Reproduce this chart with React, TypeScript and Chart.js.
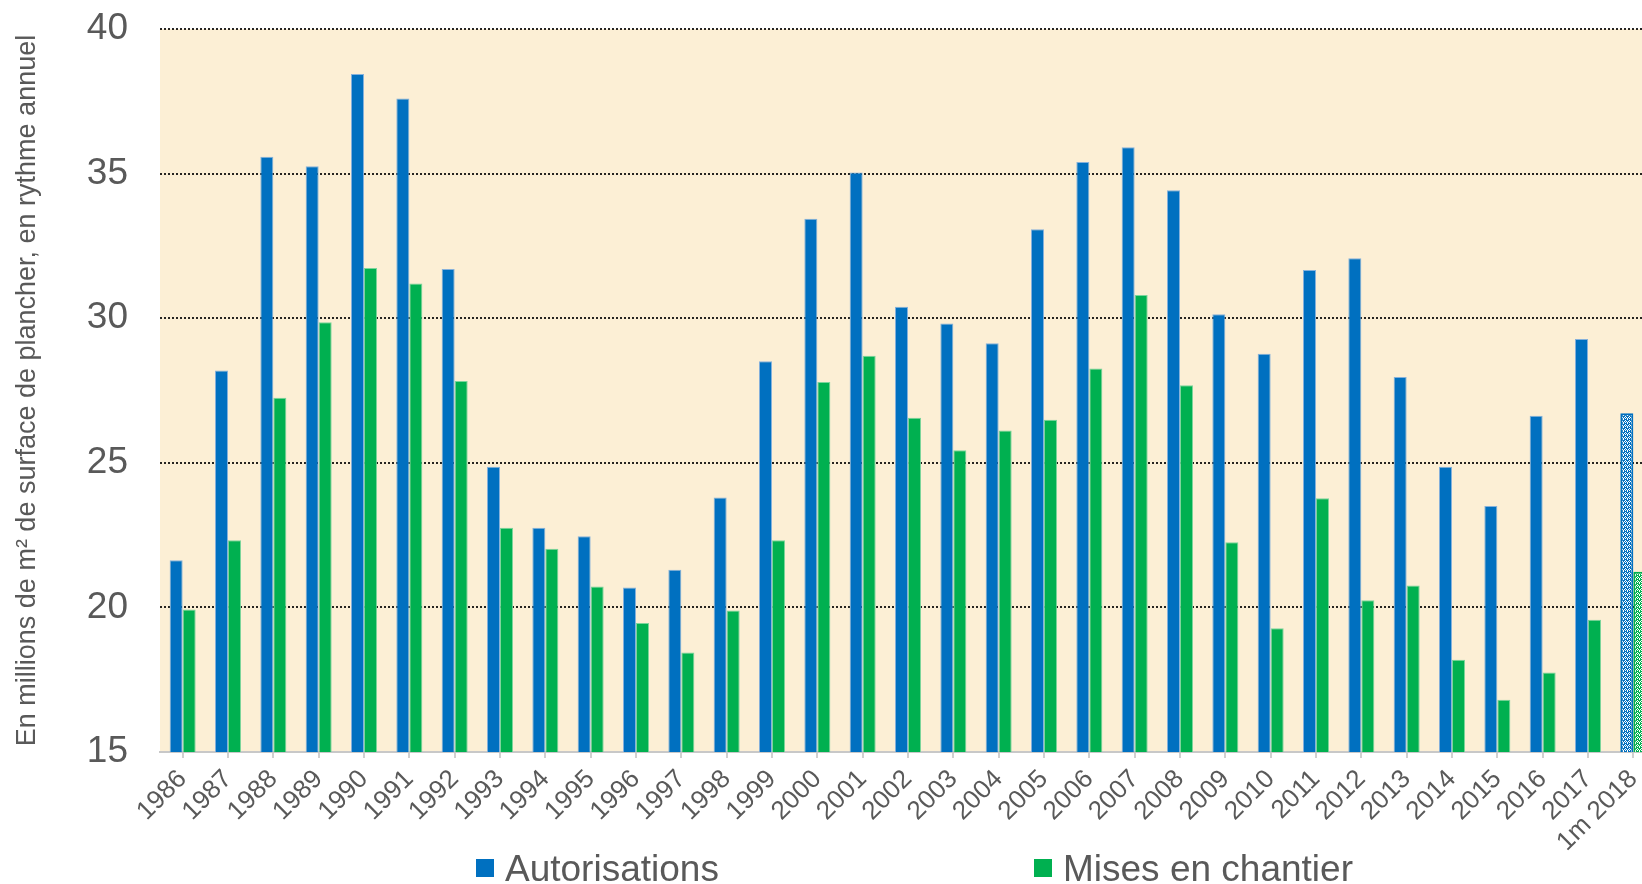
import { useEffect, useRef } from 'react';
import { Chart, registerables } from 'chart.js';

Chart.register(...registerables);

const categories = [
  '1986', '1987', '1988', '1989', '1990', '1991', '1992', '1993', '1994', '1995',
  '1996', '1997', '1998', '1999', '2000', '2001', '2002', '2003', '2004', '2005',
  '2006', '2007', '2008', '2009', '2010', '2011', '2012', '2013', '2014', '2015',
  '2016', '2017', '1m 2018',
];

const autorisations = [
  21.63, 28.19, 35.58, 35.25, 38.44, 37.6, 31.7, 24.86, 22.75, 22.46,
  20.69, 21.3, 23.8, 28.51, 33.44, 35.04, 30.4, 29.82, 29.13, 33.08,
  35.4, 35.91, 34.42, 30.14, 28.77, 31.67, 32.07, 27.97, 24.86, 23.51,
  26.63, 29.28, 26.71,
];

const misesEnChantier = [
  19.93, 22.32, 27.25, 29.86, 31.74, 31.2, 27.83, 22.75, 22.03, 20.72,
  19.46, 18.44, 19.89, 22.32, 27.79, 28.7, 26.56, 25.43, 26.12, 26.49,
  28.26, 30.8, 27.68, 22.25, 19.28, 23.77, 20.25, 20.76, 18.19, 16.81,
  17.75, 19.57, 21.23,
];

const yTicks = [15, 20, 25, 30, 35, 40];
const seriesNames = ['Autorisations', 'Mises en chantier'];
const yTitle = 'En millions de m² de surface de plancher, en rythme annuel';

const BLUE = '#0070C0';
const GREEN = '#00B050';
const TEXT = '#595959';
const FONT = '"Liberation Sans", Arial, sans-serif';

function makePattern(color: string): CanvasPattern | string {
  const c = document.createElement('canvas');
  c.width = 4;
  c.height = 4;
  const g = c.getContext('2d');
  if (!g) return color;
  g.fillStyle = color;
  g.fillRect(0, 0, 4, 4);
  g.fillStyle = '#ffffff';
  g.fillRect(1, 0, 1, 1);
  g.fillRect(0, 1, 1, 1);
  g.fillRect(2, 1, 1, 1);
  g.fillRect(1, 2, 1, 1);
  g.fillRect(3, 2, 1, 1);
  g.fillRect(3, 3, 1, 1);
  const p = g.createPattern(c, 'repeat');
  return p || color;
}

export default function App() {
  const ref = useRef<HTMLCanvasElement | null>(null);

  useEffect(() => {
    const canvas = ref.current;
    if (!canvas) return;
    const last = categories.length - 1;
    const bluePat = makePattern(BLUE);
    const greenPat = makePattern(GREEN);

    const bgPlugin = {
      id: 'bg',
      beforeDraw(chart: any) {
        const { ctx, chartArea } = chart;
        ctx.save();
        ctx.fillStyle = '#fcefd5';
        ctx.fillRect(chartArea.left, chartArea.top, chartArea.right - chartArea.left, chartArea.bottom - chartArea.top);
        ctx.restore();
      },
    };

    const legendPlugin = {
      id: 'customLegend',
      afterDraw(chart: any) {
        const { ctx, chartArea } = chart;
        const center = (chartArea.left + chartArea.right) / 2;
        const items = [
          { label: seriesNames[0], color: BLUE, x: center - 432 },
          { label: seriesNames[1], color: GREEN, x: center + 126 },
        ];
        ctx.save();
        ctx.font = `37px ${FONT}`;
        ctx.textBaseline = 'alphabetic';
        ctx.textAlign = 'left';
        for (const it of items) {
          ctx.fillStyle = it.color;
          ctx.fillRect(it.x, 859, 18, 18);
          ctx.fillStyle = TEXT;
          ctx.fillText(it.label, it.x + 29, 881);
        }
        ctx.restore();
      },
    };

    const chart = new Chart(canvas, {
      type: 'bar',
      data: {
        labels: categories,
        datasets: [
          {
            label: seriesNames[0],
            data: autorisations,
            backgroundColor: categories.map((_, i) => (i === last ? bluePat : BLUE)) as any,
            borderColor: categories.map((_, i) => (i === last ? BLUE : 'rgba(120,170,220,0.9)')),
            borderWidth: categories.map((_, i) => (i === last ? 2 : 1)),
            barPercentage: 1,
            categoryPercentage: 0.574,
          },
          {
            label: seriesNames[1],
            data: misesEnChantier,
            backgroundColor: categories.map((_, i) => (i === last ? greenPat : GREEN)) as any,
            borderColor: categories.map((_, i) => (i === last ? GREEN : 'rgba(110,210,150,0.9)')),
            borderWidth: categories.map((_, i) => (i === last ? 2 : 1)),
            barPercentage: 1,
            categoryPercentage: 0.574,
          },
        ],
      },
      options: {
        responsive: false,
        animation: false,
        devicePixelRatio: 1,
        layout: { padding: { top: 29, left: 0, right: 0, bottom: 0 } },
        plugins: {
          legend: { display: false },
          tooltip: { enabled: false },
        },
        scales: {
          x: {
            offset: true,
            grid: {
              offset: false,
              drawOnChartArea: false,
              drawTicks: true,
              tickLength: 6,
              color: '#d0d0d0',
              lineWidth: 2,
            },
            border: { display: true, color: '#c8c8c8', width: 2, dash: [2, 1] },
            ticks: {
              autoSkip: false,
              maxRotation: 45,
              minRotation: 45,
              padding: 6,
              color: TEXT,
              font: { family: FONT, size: 26 },
            },
            afterFit(scale: any) {
              scale.height = 132;
              scale.paddingLeft = 0;
              scale.paddingRight = 0;
            },
          },
          y: {
            min: yTicks[0],
            max: yTicks[yTicks.length - 1],
            afterBuildTicks(scale: any) {
              scale.ticks = yTicks.map((v) => ({ value: v }));
            },
            grid: {
              drawTicks: false,
              color: (ctx: any) => (ctx.tick && ctx.tick.value === yTicks[0] ? 'rgba(0,0,0,0)' : 'rgba(0,0,0,0.85)'),
              lineWidth: 2,
            },
            border: { display: false, dash: [2, 2] },
            ticks: {
              padding: 32,
              color: TEXT,
              font: { family: FONT, size: 37 },
            },
            title: {
              display: true,
              text: yTitle,
              color: TEXT,
              font: { family: FONT, size: 27 },
              padding: { top: 11, bottom: 0 },
            },
            afterFit(scale: any) {
              scale.width = 160;
              scale.paddingTop = 0;
              scale.paddingBottom = 0;
            },
          },
        },
      },
      plugins: [bgPlugin, legendPlugin],
    });

    return () => {
      chart.destroy();
    };
  }, []);

  return (
    <div style={{ position: 'fixed', left: 0, top: 0, width: 1642, height: 884, overflow: 'hidden', background: '#ffffff' }}>
      <canvas ref={ref} width={1656} height={884} style={{ display: 'block', width: 1656, height: 884 }} />
    </div>
  );
}
